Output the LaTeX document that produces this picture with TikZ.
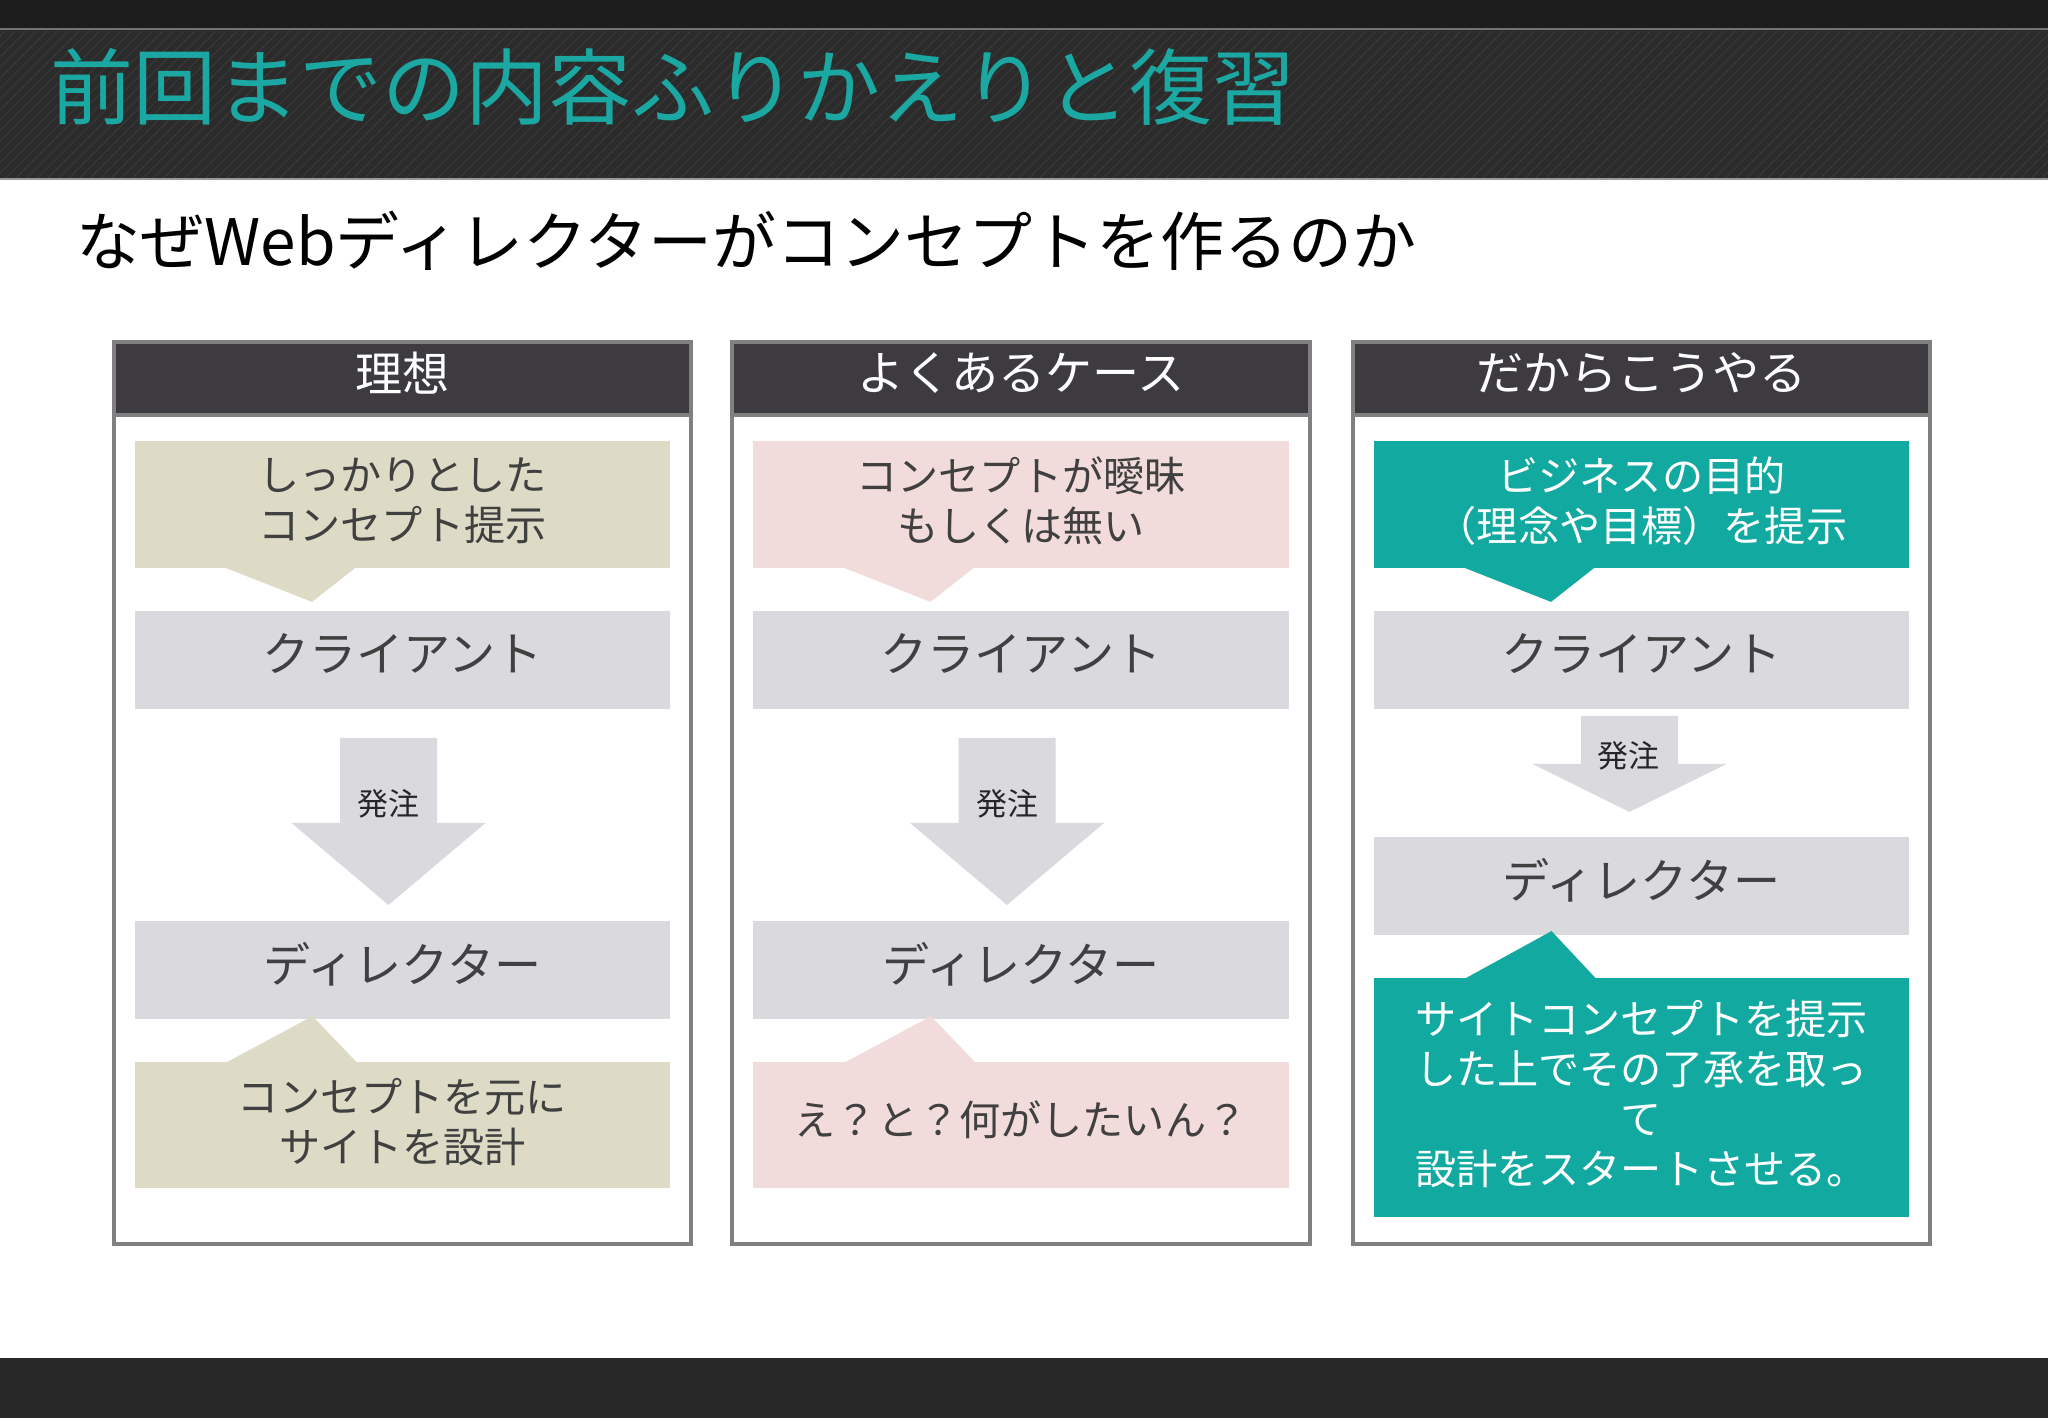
\documentclass[tikz,border=0pt]{standalone}
\usepackage{fontspec}
\setmainfont{Noto Sans CJK JP}
\usetikzlibrary{positioning, calc, patterns}

\definecolor{deepgray}{HTML}{1D1D1D}
\definecolor{bandgray}{HTML}{2B2B2B}
\definecolor{titleteal}{HTML}{1BA8A2}
\definecolor{conceptteal}{HTML}{12A9A1}
\definecolor{headgray}{HTML}{3D3B3F}
\definecolor{framegray}{HTML}{808080}
\definecolor{idealtan}{HTML}{DDDAC5}
\definecolor{casepink}{HTML}{F2DCDB}
\definecolor{boxgray}{HTML}{DAD9DD}
\definecolor{inkgray}{HTML}{404040}

\tikzstyle{panel} = [rectangle, draw=framegray, line width=0.04cm, fill=white, minimum width=5.77cm, minimum height=9.02cm, inner sep=0pt, outer sep=0pt]
\tikzstyle{head} = [rectangle, draw=framegray, line width=0.04cm, fill=headgray, minimum width=5.77cm, minimum height=0.73cm, inner sep=0pt, outer sep=0pt, text=white, font=\fontsize{13.4}{16}\selectfont, execute at end node={\rule[-0.13cm]{0pt}{0pt}}]
\tikzstyle{actor} = [rectangle, fill=boxgray, minimum width=5.35cm, minimum height=0.98cm, inner sep=0pt, outer sep=0pt, text=inkgray, font=\fontsize{13.4}{16}\selectfont, execute at end node={\rule[-0.15cm]{0pt}{0pt}}]
\tikzstyle{note} = [rectangle, minimum width=5.35cm, minimum height=1.27cm, inner sep=0pt, outer sep=0pt, align=center, text=inkgray, font=\fontsize{11.7}{14.3}\selectfont, execute at end node={\rule[-0.1cm]{0pt}{0pt}}]
\tikzstyle{order} = [fill=boxgray]
\tikzstyle{ordertext} = [inner sep=0pt, text=black!85, font=\fontsize{8.8}{10}\selectfont]

\begin{document}
\begin{tikzpicture}[
				x=0.01cm,
				y=-0.01cm
			]
			\useasboundingbox (0,0) rectangle (2048,1418);

			% page bands
			\fill[white] (0,0) rectangle (2048,1418);
			\fill[deepgray] (0,0) rectangle (2048,29);
			\fill[bandgray] (0,29) rectangle (2048,179);
			\fill[pattern=north east lines, pattern color=black!79] (0,31) rectangle (2048,177);
			\draw[black!55, line width=0.02cm] (0,29) -- (2048,29);
			\draw[black!40, line width=0.02cm] (0,179) -- (2048,179);
			\fill[deepgray!95!white] (0,1358) rectangle (2048,1418);

			\node[anchor=west, inner sep=0pt, text=titleteal, font=\fontsize{23.6}{28}\selectfont] (title) at (50,87) {前回までの内容ふりかえりと復習};
			\node[anchor=west, inner sep=0pt, text=black, font=\fontsize{18.2}{22}\selectfont] (subtitle) at (76,241) {なぜWebディレクターがコンセプトを作るのか};

			% ideal
			\node[panel] (p1) at (402.5,793) {};
			\node[head, below=0cm of p1.north] (h1) {理想};
			\node[note, fill=idealtan, below=0.26cm of h1] (n1) {しっかりとした\\コンセプト提示};
			\node[actor, below=0.43cm of n1] (c1) {クライアント};
			\node[actor, below=2.12cm of c1] (d1) {ディレクター};
			\node[note, fill=idealtan, minimum height=1.26cm, below=0.43cm of d1] (m1) {コンセプトを元に\\サイトを設計};

			\fill[idealtan] ($(n1.south)+(-179.5,-1)$) -- ($(c1.north)+(-90.5,-9)$) -- ($(n1.south)+(-46,-1)$) -- cycle;
			\fill[order] ($(c1.south)+(-62.5,29)$) -- ++(97,0) -- ++(0,85) -- ++(48.5,0) -- ++(-97,82) -- ++(-97,-82) -- ++(48.5,0) -- cycle;
			\node[ordertext] (o1) at ($(c1.south)+(-14,95)$) {発注};
			\fill[idealtan] ($(m1.north)+(-177.5,1)$) -- ($(d1.south)+(-90,-3)$) -- ($(m1.north)+(-45,1)$) -- cycle;

			% common case
			\node[panel] (p2) at (1021,793) {};
			\node[head, below=0cm of p2.north] (h2) {よくあるケース};
			\node[note, fill=casepink, below=0.26cm of h2] (n2) {コンセプトが曖昧\\もしくは無い};
			\node[actor, below=0.43cm of n2] (c2) {クライアント};
			\node[actor, below=2.12cm of c2] (d2) {ディレクター};
			\node[note, fill=casepink, minimum height=1.26cm, below=0.43cm of d2, execute at end node={\rule[-0.15cm]{0pt}{0pt}}] (m2) {え？と？何がしたいん？};

			\fill[casepink] ($(n2.south)+(-179.5,-1)$) -- ($(c2.north)+(-90.5,-9)$) -- ($(n2.south)+(-46,-1)$) -- cycle;
			\fill[order] ($(c2.south)+(-62.5,29)$) -- ++(97,0) -- ++(0,85) -- ++(48.5,0) -- ++(-97,82) -- ++(-97,-82) -- ++(48.5,0) -- cycle;
			\node[ordertext] (o2) at ($(c2.south)+(-14,95)$) {発注};
			\fill[casepink] ($(m2.north)+(-177.5,1)$) -- ($(d2.south)+(-90,-3)$) -- ($(m2.north)+(-45,1)$) -- cycle;

			% so we do this
			\node[panel] (p3) at (1641.5,793) {};
			\node[head, below=0cm of p3.north] (h3) {だからこうやる};
			\node[note, fill=conceptteal, text=white, below=0.26cm of h3] (n3) {ビジネスの目的\\（理念や目標）を提示};
			\node[actor, below=0.43cm of n3] (c3) {クライアント};
			\node[actor, below=1.28cm of c3] (d3) {ディレクター};
			\node[note, fill=conceptteal, text=white, minimum height=2.39cm, below=0.43cm of d3, execute at end node={\rule[-0.11cm]{0pt}{0pt}}] (m3) {サイトコンセプトを提示\\した上でその了承を取っ\\て\\設計をスタートさせる。};

			\fill[conceptteal] ($(n3.south)+(-179.5,-1)$) -- ($(c3.north)+(-90.5,-9)$) -- ($(n3.south)+(-46,-1)$) -- cycle;
			\fill[order] ($(c3.south)+(-60.5,7)$) -- ++(97,0) -- ++(0,48) -- ++(48.5,0) -- ++(-97,48) -- ++(-97,-48) -- ++(48.5,0) -- cycle;
			\node[ordertext] (o3) at ($(c3.south)+(-13,47)$) {発注};
			\fill[conceptteal] ($(m3.north)+(-177.5,1)$) -- ($(d3.south)+(-90,-4)$) -- ($(m3.north)+(-45,1)$) -- cycle;
		\end{tikzpicture}
\end{document}
